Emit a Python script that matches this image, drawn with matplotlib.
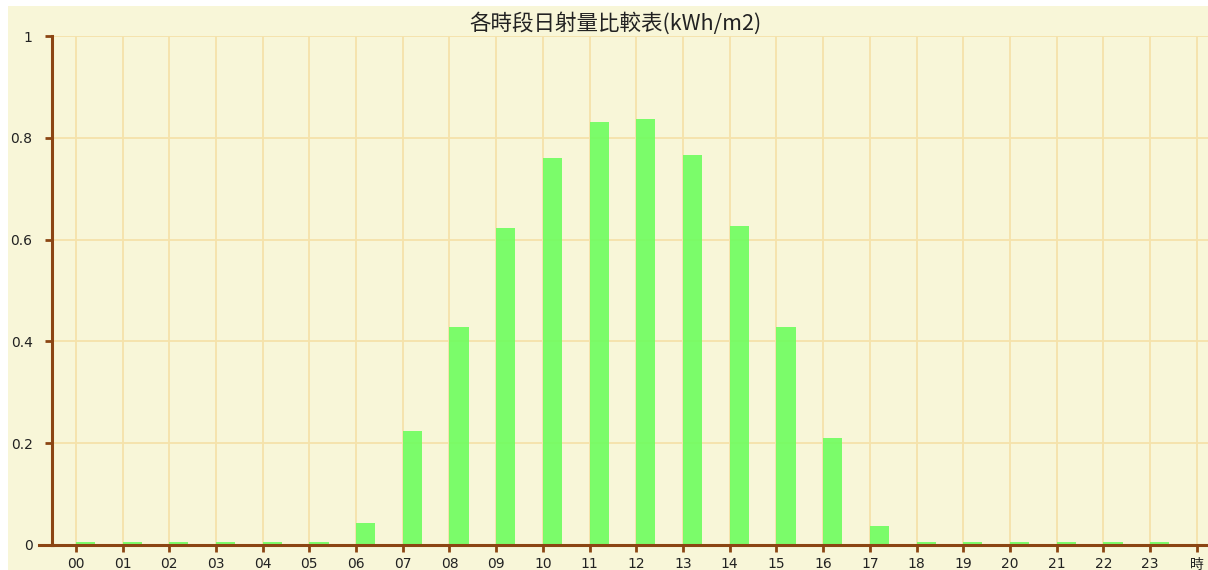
import matplotlib
matplotlib.use("Agg")
import matplotlib.pyplot as plt
from matplotlib.patches import Rectangle
from matplotlib.lines import Line2D

plt.rcParams["font.family"] = ["DejaVu Sans", "Noto Sans CJK TC"]

hours = ["00", "01", "02", "03", "04", "05", "06", "07", "08", "09", "10", "11",
         "12", "13", "14", "15", "16", "17", "18", "19", "20", "21", "22", "23"]
values = [0.005, 0.005, 0.005, 0.005, 0.005, 0.005, 0.044, 0.223, 0.428, 0.623,
          0.761, 0.832, 0.837, 0.766, 0.626, 0.428, 0.210, 0.038, 0.005, 0.005,
          0.005, 0.005, 0.005, 0.005]
tick_labels = hours + ["時"]
y_ticks = [0, 0.2, 0.4, 0.6, 0.8, 1.0]
y_labels = ["0", "0.2", "0.4", "0.6", "0.8", "1"]
title = "各時段日射量比較表(kWh/m2)"

W, H = 1208, 570
fig = plt.figure(figsize=(W / 100, H / 100), dpi=100, facecolor="white")
bg = "#F8F6D8"
grid_c = "#F5E2AA"
axis_c = "#8B4513"
fig.patches.append(Rectangle((8 / W, 0), 1 - 8 / W, 1 - 6 / H, transform=fig.transFigure,
                             facecolor=bg, edgecolor="none", zorder=-10))

ax = fig.add_axes([52 / W, 25 / H, (W - 52) / W, 509 / H])
ax.set_facecolor(bg)
ax.patch.set_alpha(0)

x = list(range(len(values)))
ax.bar(x, values, width=0.41, align="edge", color="#6EFD5E", alpha=0.9, zorder=3,
       edgecolor="none")

ax.set_xlim(-0.51, 24.24)
ax.set_ylim(0, 1.0)
ax.set_xticks(range(len(tick_labels)))
ax.set_xticklabels(tick_labels)
ax.set_yticks(y_ticks)
ax.set_yticklabels(y_labels)

ax.grid(True, color=grid_c, linewidth=1.3, zorder=1)
ax.set_axisbelow(True)

for s in ["top", "right"]:
    ax.spines[s].set_visible(False)
for s in ["left", "bottom"]:
    ax.spines[s].set_color(axis_c)
    ax.spines[s].set_linewidth(2.2)
    ax.spines[s].set_zorder(5)

# x-axis line extends a little to the left of the y axis
fig.add_artist(Line2D([39 / W, 53 / W], [25 / H, 25 / H], color=axis_c, linewidth=2.2,
                      transform=fig.transFigure, zorder=6))

ax.tick_params(axis="both", colors=axis_c, width=2, length=5, labelcolor="#222222",
               labelsize=10)
ax.tick_params(axis="y", pad=9)
ax.tick_params(axis="x", pad=4)

fig.text(615 / W, 1 - 23 / H, title, ha="center", va="center", fontsize=15.5,
         color="#222222", family=["Noto Sans CJK TC", "DejaVu Sans"])

fig.savefig("out.png", dpi=100, facecolor="white")
